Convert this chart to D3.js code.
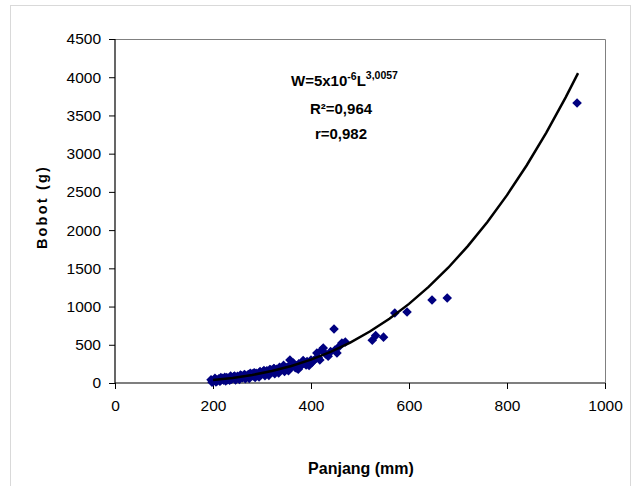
<!DOCTYPE html>
<html>
<head>
<meta charset="utf-8">
<script src="https://cdn.jsdelivr.net/npm/d3@7"></script>
<style>
  body { margin: 0; background: #fff; }
  svg { display: block; font-family: "Liberation Sans", Arial, sans-serif; }
</style>
</head>
<body>
<svg id="chart" width="637" height="486"></svg>
<script>
(function () {
  'use strict';

  // panjang (mm) dan bobot (g) tiap ikan
  var panjang = [196, 200, 202, 205, 208, 210, 212, 215, 218, 220, 222, 225, 228, 230, 232, 235, 238, 240,
    242, 245, 248, 250, 252, 255, 258, 260, 262, 265, 268, 270, 272, 275, 278, 280, 282, 285, 288, 290,
    292, 295, 298, 300, 302, 305, 308, 310, 312, 315, 318, 320, 322, 325, 328, 330, 335, 338, 340, 345,
    348, 350, 355, 357, 360, 365, 368, 370, 375, 378, 380, 385, 390, 392, 395, 400, 402, 405, 410, 412,
    415, 422, 425, 430, 440, 447, 449, 453, 463, 470, 525, 532, 548, 571, 596, 647, 678, 943,
    198, 204, 214, 224, 234, 244, 254, 264, 274, 284, 294, 304, 314, 324, 334, 344, 354, 364, 374, 384,
    206, 216, 226, 236, 246, 256, 266, 276, 286, 296, 306, 316, 326, 336, 346, 372, 396, 418, 435, 458];
  var bobot = [42, 20, 35, 48, 25, 40, 55, 30, 45, 60, 38, 52, 70, 44, 58, 75, 50, 65,
    80, 58, 72, 88, 62, 80, 95, 70, 88, 105, 78, 95, 112, 86, 102, 120, 92, 110, 128, 100,
    118, 138, 110, 130, 148, 120, 140, 160, 132, 150, 172, 145, 165, 185, 155, 178, 195, 170, 190, 210,
    180, 200, 222, 300, 210, 235, 200, 225, 250, 215, 240, 262, 235, 280, 255, 300, 270, 290, 320, 392,
    330, 432, 458, 380, 410, 706, 432, 392, 523, 536, 560, 620, 600, 916, 929, 1086, 1112, 3663,
    10, 62, 22, 75, 35, 92, 48, 112, 60, 135, 80, 162, 100, 188, 130, 230, 160, 262, 180, 295,
    15, 70, 28, 90, 40, 105, 55, 128, 72, 150, 95, 175, 120, 205, 150, 190, 230, 300, 350, 480];

  // garis tren pangkat W = a L^b
  var trendA = 4.62e-6;
  var trendB = 3.0057;
  var trendL = [200, 240, 280, 320, 360, 400, 440, 480, 520, 560, 600, 640, 680, 720, 760, 800, 840, 880, 920, 945];

  var xTicks = [0, 200, 400, 600, 800, 1000];
  var yTicks = [0, 500, 1000, 1500, 2000, 2500, 3000, 3500, 4000, 4500];

  var margin = { top: 39, right: 32, bottom: 103, left: 115 };
  var width = 637 - margin.left - margin.right;
  var height = 486 - margin.top - margin.bottom;

  var svg = d3.select("#chart");

  // bingkai luar grafik
  svg.append("rect")
    .attr("x", 10.5).attr("y", 5.5)
    .attr("width", 620).attr("height", 490)
    .attr("fill", "none").attr("stroke", "#d9d9d9");

  var g = svg.append("g").attr("transform", "translate(" + margin.left + "," + margin.top + ")");

  var x = d3.scaleLinear().domain([0, 1000]).range([0, width]);
  var y = d3.scaleLinear().domain([0, 4500]).range([height, 0]);

  // bingkai area plot (atas dan kanan)
  g.append("path")
    .attr("d", "M0,0.5H" + (width + 0.5) + "V" + height)
    .attr("fill", "none").attr("stroke", "#808080");

  var xAxis = g.append("g")
    .attr("transform", "translate(0," + height + ")")
    .call(d3.axisBottom(x).tickValues(xTicks).tickFormat(d3.format("d")).tickSize(6).tickPadding(11));
  var yAxis = g.append("g")
    .call(d3.axisLeft(y).tickValues(yTicks).tickFormat(d3.format("d")).tickSize(6).tickPadding(8));

  [xAxis, yAxis].forEach(function (ax) {
    ax.select(".domain").attr("stroke", "#000").attr("stroke-width", 1.2);
    ax.selectAll(".tick line").attr("stroke", "#000");
    ax.selectAll(".tick text")
      .attr("fill", "#000")
      .style("font-size", "15.5px")
      .style("font-family", "Liberation Sans, Arial, sans-serif");
  });
  xAxis.select(".domain").attr("d", "M0,0H" + width);
  yAxis.select(".domain").attr("d", "M0," + height + "V0");

  // titik data
  var points = panjang.map(function (p, i) { return { l: p, w: bobot[i] }; });
  g.selectAll(".pt")
    .data(points)
    .enter()
    .append("path")
    .attr("class", "pt")
    .attr("d", d3.symbol(d3.symbolSquare, 46))
    .attr("transform", function (d) {
      return "translate(" + x(d.l) + "," + y(d.w) + ") rotate(45)";
    })
    .attr("fill", "#000080");

  // garis tren
  var line = d3.line()
    .x(function (l) { return x(l); })
    .y(function (l) { return y(trendA * Math.pow(l, trendB)); });
  g.append("path")
    .datum(trendL)
    .attr("d", line)
    .attr("fill", "none")
    .attr("stroke", "#000")
    .attr("stroke-width", 2.5);

  // persamaan
  var eq = svg.append("g")
    .attr("font-weight", "bold")
    .attr("font-size", 15)
    .attr("fill", "#000");
  var t1 = eq.append("text").attr("x", 291).attr("y", 86);
  t1.append("tspan").text("W=5x10");
  t1.append("tspan").attr("dy", -6).attr("font-size", 10.5).text("-6");
  t1.append("tspan").attr("dy", 6).text("L");
  t1.append("tspan").attr("dy", -7).attr("font-size", 10.5).text("3,0057");
  eq.append("text").attr("x", 341).attr("y", 114).attr("text-anchor", "middle").text("R²=0,964");
  eq.append("text").attr("x", 341).attr("y", 139).attr("text-anchor", "middle").text("r=0,982");

  // judul sumbu
  svg.append("text")
    .attr("x", 361).attr("y", 474)
    .attr("text-anchor", "middle")
    .attr("font-weight", "bold").attr("font-size", 16)
    .text("Panjang (mm)");
  svg.append("text")
    .attr("transform", "translate(47,207) rotate(-90)")
    .attr("text-anchor", "middle")
    .attr("font-weight", "bold").attr("font-size", 14.5)
    .attr("letter-spacing", 2.2)
    .text("Bobot (g)");
})();
</script>
</body>
</html>
